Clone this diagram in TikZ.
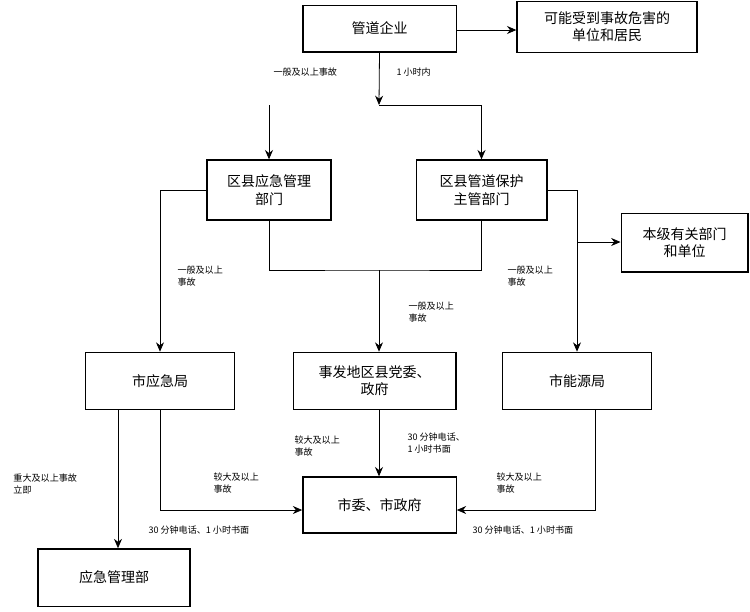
\documentclass[tikz,border=0pt]{standalone}
\usepackage{fontspec}
\newfontfamily\cjk{Noto Sans CJK SC}
\usetikzlibrary{arrows.meta}
\tikzset{every picture/.style={line width=0.75pt}}
\tikzset{
  unitbox/.style={draw, line width=1pt, align=center, font=\cjk\fontsize{10.5}{13}\selectfont, inner sep=0pt},
  tag/.style={align=left, font=\cjk\fontsize{6.8}{9}\selectfont, inner sep=0.75pt},
  flow/.style={-{Stealth[length=7pt,width=6pt]}, line width=0.6pt}
}

\begin{document}
\begin{tikzpicture}[x=0.75pt,y=0.75pt,yscale=-1,xscale=1]
\useasboundingbox (0,0) rectangle (750,611);

% Boxes
\node [unitbox, minimum width=115pt, minimum height=35pt] (qiye) at (379.5,28.5) {管道企业};
\node [unitbox, minimum width=135pt, minimum height=38pt] (jumin) at (607,27) {可能受到事故危害的\\单位和居民};
\node [unitbox, minimum width=93pt, minimum height=45pt] (qxyj) at (269,190) {区县应急管理\\部门};
\node [unitbox, minimum width=98pt, minimum height=45pt] (qxgd) at (481.5,190) {区县管道保护\\主管部门};
\node [unitbox, minimum width=95pt, minimum height=44pt] (benji) at (684.5,242.5) {本级有关部门\\和单位};
\node [unitbox, minimum width=112pt, minimum height=43pt] (syj) at (160,381) {市应急局};
\node [unitbox, minimum width=122pt, minimum height=43pt] (dangwei) at (374.5,381) {事发地区县党委、\\政府};
\node [unitbox, minimum width=112pt, minimum height=43pt] (sny) at (577,381) {市能源局};
\node [unitbox, minimum width=115pt, minimum height=42pt] (shiwei) at (379.5,505) {市委、市政府};
\node [unitbox, minimum width=114pt, minimum height=43pt] (yjb) at (114,577.5) {应急管理部};

% Coordinates
\coordinate (fork) at (379,105);
\coordinate (join) at (379,270);
\coordinate (sjr) at (577,242);

% Connectors
\draw [flow] (qiye.east |- 0,30) -- (jumin.west |- 0,30);
\draw [flow] (qiye.south) -- (fork);
\draw [flow] (269,105) -| (qxyj.north);
\draw [flow] (fork) -| (qxgd.north);
\draw (qxyj.south) |- (join) -| (qxgd.south);
\draw [flow] (join) -- (dangwei.north -| join);
\draw [flow] (qxyj.west) -| (syj.north);
\draw [flow] (qxgd.east) -| (sny.north);
\draw [flow] (sjr) -- (benji.west |- sjr);
\draw [flow] (syj.south -| 118,0) -- (yjb.north -| 118,0);
\draw [flow] (syj.south) |- (shiwei.west |- 0,510);
\draw [flow] (dangwei.south -| join) -- (shiwei.north -| join);
\draw [flow] (sny.south -| 595,0) |- (shiwei.east |- 0,510);

% Text Node
\node [tag, anchor=west] (t1) at (272,72) {一般及以上事故};
\node [tag, anchor=west] (t2) at (395,72) {1 小时内};
\node [tag, anchor=west] (t3) at (176,276) {一般及以上\\事故};
\node [tag, anchor=west] (t4) at (407,312) {一般及以上\\事故};
\node [tag, anchor=west] (t5) at (506,276) {一般及以上\\事故};
\node [tag, anchor=west] (t6) at (12,484) {重大及以上事故\\立即};
\node [tag, anchor=west] (t7) at (212,483) {较大及以上\\事故};
\node [tag, anchor=west] (t8) at (147,530) {30 分钟电话、1 小时书面};
\node [tag, anchor=west] (t9) at (293,446) {较大及以上\\事故};
\node [tag, anchor=west] (t10) at (406,443) {30 分钟电话、\\1 小时书面};
\node [tag, anchor=west] (t11) at (495,483) {较大及以上\\事故};
\node [tag, anchor=west] (t12) at (471,530) {30 分钟电话、1 小时书面};

\end{tikzpicture}
\end{document}
